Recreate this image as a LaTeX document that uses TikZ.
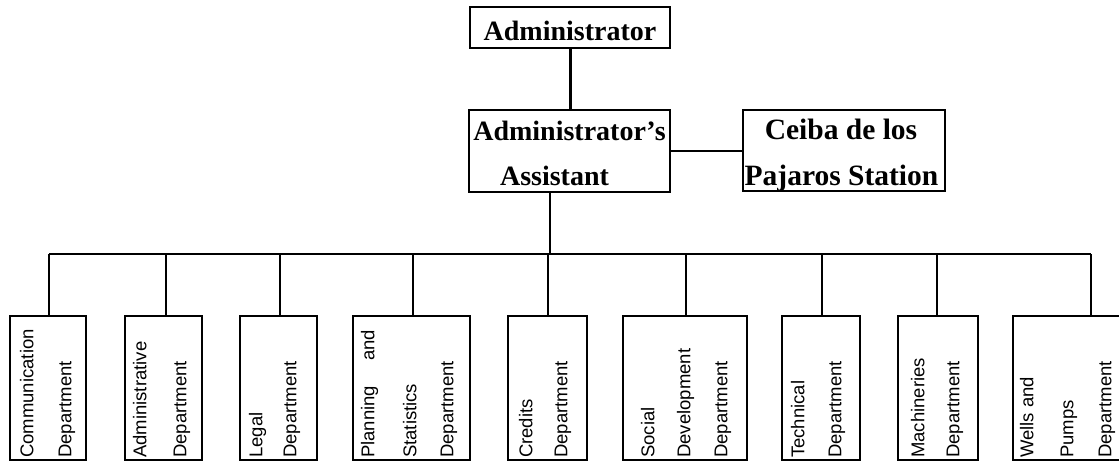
\documentclass[tikz,border=0pt]{standalone}
\usepackage{fontspec}
\setmainfont{Liberation Serif}
\newfontfamily\deptfont{Liberation Sans}
\begin{document}
\begin{tikzpicture}[x=1pt,y=-1pt,
  box/.style={draw, line width=2.2pt, inner sep=0pt, outer sep=0pt},
  dbox/.style={draw, line width=2pt, inner sep=0pt, outer sep=0pt, minimum height=144pt},
  toptext/.style={font=\bfseries\fontsize{28}{30}\selectfont, inner sep=0pt, anchor=base},
  dtext/.style={font=\deptfont\fontsize{18.5}{20}\selectfont, rotate=90, anchor=mid west, inner sep=0pt},
  thickline/.style={line width=3pt},
  medline/.style={line width=2pt},
  thinline/.style={line width=1.5pt}]
\useasboundingbox (0,0) rectangle (1119,466);
\fill[white] (0,0) rectangle (1119,466);
\clip (0,0) rectangle (1119,466);

% top boxes
\node[box, minimum width=200pt, minimum height=41pt] (admin) at (570,27.5) {};
\node[toptext] (admintxt) at (570,40) {Administrator};
\node[box, minimum width=201pt, minimum height=82pt] (asst) at (569.5,151) {};
\node[toptext] (asst1) at (569.5,140) {Administrator's};
\node[toptext] (asst2) at (554.5,185) {Assistant};
\node[box, minimum width=202pt, minimum height=81pt] (ceiba) at (844,150.5) {};
\node[toptext, font=\bfseries\fontsize{29.5}{30}\selectfont] (ceiba1) at (841,139) {Ceiba de los};
\node[toptext, font=\bfseries\fontsize{29.5}{30}\selectfont] (ceiba2) at (841.5,185) {Pajaros Station};

% department boxes
\node[dbox, minimum width=76pt]  (d1) at (48,388) {};
\node[dbox, minimum width=77pt]  (d2) at (163.5,388) {};
\node[dbox, minimum width=77pt]  (d3) at (278.5,388) {};
\node[dbox, minimum width=117pt] (d4) at (411.5,388) {};
\node[dbox, minimum width=79pt]  (d5) at (547.5,388) {};
\node[dbox, minimum width=124pt] (d6) at (685,388) {};
\node[dbox, minimum width=78pt]  (d7) at (821,388) {};
\node[dbox, minimum width=80pt]  (d8) at (938,388) {};
\node[dbox, minimum width=117pt] (d9) at (1071.5,388) {};

% department texts
\node[dtext] (t11) at (31,458) {Communication};
\node[dtext] (t12) at (69,458) {Department};
\node[dtext] (t21) at (144,458) {Administrative};
\node[dtext] (t22) at (184,458) {Department};
\node[dtext] (t31) at (260,458) {Legal};
\node[dtext] (t32) at (294,458) {Department};
\node[dtext] (t41) at (372,458) {\makebox[128pt][s]{Planning and}};
\node[dtext] (t42) at (414,458) {Statistics};
\node[dtext] (t43) at (451,458) {Department};
\node[dtext] (t51) at (530,458) {Credits};
\node[dtext] (t52) at (565,458) {Department};
\node[dtext] (t61) at (652,458) {Social};
\node[dtext] (t62) at (688,458) {Development};
\node[dtext] (t63) at (725,458) {Department};
\node[dtext] (t71) at (802,458) {Technical};
\node[dtext] (t72) at (839,458) {Department};
\node[dtext] (t81) at (922,458) {Machineries};
\node[dtext] (t82) at (957,458) {Department};
\node[dtext] (t91) at (1031,458) {Wells and};
\node[dtext] (t92) at (1071,458) {Pumps};
\node[dtext] (t93) at (1109,458) {Department};

% connectors
\draw[thickline] (admin.south) -- (admin.south |- asst.north);
\draw[thinline] (asst.east) -- (asst.east -| ceiba.west);
\coordinate (bc) at (550,254);
\draw[medline] (bc |- asst.south) -- (bc);
\coordinate (b1) at (49,254);
\coordinate (b2) at (166,254);
\coordinate (b3) at (280,254);
\coordinate (b4) at (413,254);
\coordinate (b5) at (548,254);
\coordinate (b6) at (686,254);
\coordinate (b7) at (822,254);
\coordinate (b8) at (937,254);
\coordinate (b9) at (1091,254);
\draw[thinline] (b1) -- (b9);
\foreach \i in {1,...,9} {
  \draw[medline] (b\i) -- (b\i |- d\i.north);
}
\end{tikzpicture}
\end{document}
